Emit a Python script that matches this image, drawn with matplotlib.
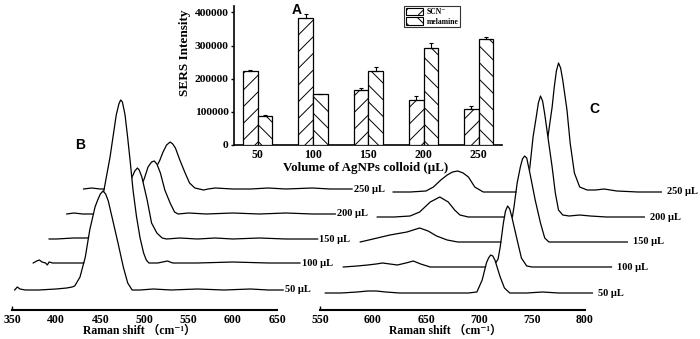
import matplotlib.pyplot as plt
import numpy as np
from matplotlib.patches import Patch

plt.rcParams['font.family'] = ['Liberation Serif', 'DejaVu Serif']
plt.rcParams['font.weight'] = 'bold'
plt.rcParams['hatch.linewidth'] = 0.7

# ---- inset A: SERS intensity vs colloid volume
volumes = ['50', '100', '150', '200', '250']
scn = [223000, 384000, 167000, 136000, 110000]
scn_err = [2000, 12000, 5000, 12000, 7000]
mel = [87000, 153000, 224000, 294000, 321000]
mel_err = [3000, 2000, 10000, 14000, 4000]

# ---- panel B (left) spectra: (Raman shift, intensity a.u.)
labels = ['50 μL', '100 μL', '150 μL', '200 μL', '250 μL']
b50 = [(353, 0), (356, 3), (359, 1), (365, 0), (380, 0), (400, 1), (412, 2), (418, 3), (421, 4),
       (427, 13), (433, 33), (438, 60), (444, 83), (447, 90), (450, 96), (453, 99), (456, 96),
       (459, 89), (464, 70), (470, 47), (476, 23), (481, 7), (486, 0), (495, 0), (510, 1),
       (530, 0), (560, 1), (590, 0), (620, 1), (640, 0), (657, 0)]
b100 = [(374, 0), (378, 2), (381, 3), (384, 1), (388, 0), (390, -2), (392, 1), (396, 0), (410, 0),
        (425, 0), (435, 0), (440, 10), (445, 30), (451, 58), (456, 82), (461, 106), (465, 130),
        (468, 148), (471, 159), (473, 163), (475, 161), (478, 148), (481, 125), (484, 100),
        (487, 73), (491, 46), (495, 25), (499, 10), (502, 3), (505, 0), (515, 0), (526, 2),
        (532, 0), (560, 0), (600, 1), (640, 0), (676, 0)]
b150 = [(392, 0), (400, 0), (420, 1), (435, 1), (440, 2), (450, 3), (460, 8), (470, 22), (480, 42),
        (486, 62), (489, 68), (492, 71), (494, 69), (497, 62), (503, 39), (508, 16), (514, 6),
        (520, 1), (525, 0), (540, 1), (560, 0), (580, 1), (600, 0), (630, 1), (660, 0), (696, 0)]
b200 = [(412, 0), (420, 1), (430, 0), (450, 0), (465, 1), (475, 3), (485, 8), (493, 20), (500, 36),
        (504, 47), (508, 52), (511, 53), (514, 50), (518, 41), (523, 24), (529, 11), (534, 2),
        (538, 0), (550, 1), (570, 0), (600, 1), (630, 0), (660, 1), (690, 0), (716, 0)]
b250 = [(431, 0), (440, 1), (450, 0), (470, 0), (485, 1), (495, 3), (505, 10), (512, 20), (517, 28),
        (521, 37), (525, 44), (529, 47), (532, 45), (535, 41), (540, 29), (546, 16), (551, 6),
        (557, 1), (562, 0), (567, -1), (572, 0), (580, 1), (600, 0), (620, 0), (640, 1),
        (660, 0), (690, 1), (710, 0), (735, 0)]
offsets_b = [20, 47, 71, 96, 121]

# ---- panel C (right) spectra
c50 = [(555, 0), (570, 0), (585, 1), (595, 2), (603, 2), (612, 1), (625, 0), (650, 0), (670, 0),
       (690, 0), (698, 1), (703, 13), (707, 30), (709, 35), (711, 38), (713, 37), (715, 33),
       (720, 16), (724, 5), (729, 0), (745, 0), (760, 1), (775, 0), (795, 0), (807, 0)]
c100 = [(572, 0), (585, 1), (595, 2), (603, 3), (609, 4), (616, 3), (623, 2), (631, 4), (638, 6),
        (645, 3), (654, 0), (670, 0), (690, 0), (705, 0), (714, 1), (718, 8), (720, 20), (723, 44),
        (725, 56), (727, 61), (729, 58), (731, 50), (736, 27), (740, 9), (745, 1), (750, 0),
        (770, 0), (800, 0), (825, 0)]
c150 = [(588, 0), (600, 3), (616, 7), (632, 10), (644, 14), (652, 11), (660, 6), (670, 2), (680, 0),
        (700, 0), (715, 0), (724, 0), (727, 3), (730, 15), (733, 35), (736, 59), (739, 75),
        (741, 83), (743, 86), (745, 84), (748, 69), (753, 42), (758, 19), (762, 4), (766, 0),
        (780, 0), (800, 0), (820, 0), (840, 0)]
c200 = [(604, 0), (620, 0), (635, 1), (644, 5), (654, 15), (663, 20), (671, 15), (677, 7), (682, 2),
        (690, 0), (720, 0), (738, 0), (742, 7), (745, 24), (748, 50), (751, 80), (754, 100),
        (756, 114), (758, 121), (760, 116), (762, 103), (765, 80), (769, 50), (772, 24), (775, 7),
        (779, 2), (785, 1), (795, 2), (805, 1), (820, 0), (840, 0), (856, 0)]
c250 = [(619, 0), (635, 0), (650, 1), (657, 5), (664, 12), (670, 17), (675, 20), (680, 21),
        (685, 19), (690, 15), (696, 5), (704, 0), (720, 0), (740, 0), (755, 0), (758, 6),
        (761, 19), (765, 55), (769, 85), (771, 105), (773, 121), (775, 129), (777, 124),
        (779, 112), (783, 82), (786, 49), (790, 19), (795, 5), (802, 2), (810, 2), (818, 3),
        (830, 1), (850, 0), (872, 0)]
offsets_c = [17, 43, 68, 93, 118]

W, H = 700, 339
fig = plt.figure(figsize=(W / 100, H / 100), dpi=100)


def box(x0, y0, x1, y1):
    return [x0 / W, 1 - y1 / H, (x1 - x0) / W, (y1 - y0) / H]


def waterfall(ax, spectra, offsets, xlim, gap):
    ax.set_xlim(*xlim)
    ax.set_ylim(0, 250)
    ax.patch.set_alpha(0)
    for k, (spec, off) in enumerate(zip(spectra, offsets)):
        x = np.array([p[0] for p in spec], float)
        y = np.array([p[1] for p in spec], float) + off
        ax.fill_between(x, y, 0, color='white', lw=0, zorder=10 - 2 * k, clip_on=False)
        ax.plot(x, y, color='black', lw=0.9, zorder=11 - 2 * k, clip_on=False,
                solid_joinstyle='round')
        ax.text(x[-1] + gap, off, labels[k], fontsize=7.5, va='center', ha='left', zorder=20)
    for s in ['left', 'right', 'top']:
        ax.spines[s].set_visible(False)
    ax.spines['bottom'].set_linewidth(1.5)
    ax.spines['bottom'].set_zorder(30)
    ax.set_yticks([])
    ax.tick_params(axis='x', direction='in', length=3, width=1, labelsize=8.5, pad=3)


axB = fig.add_axes(box(12, 60, 277, 310))
waterfall(axB, [b50, b100, b150, b200, b250], offsets_b, (350, 650), 2)
axB.set_xticks(range(350, 651, 50))

axC = fig.add_axes(box(320, 60, 585, 310))
waterfall(axC, [c50, c100, c150, c200, c250], offsets_c, (550, 800), 5)
axC.set_xticks(range(550, 801, 50))

for cx in [139, 445]:
    fig.text(cx / W, 1 - 331 / H, 'Raman shift （cm⁻¹）', ha='center', va='center', fontsize=8.5,
             family=['Liberation Serif', 'Noto Sans CJK SC', 'DejaVu Serif'])

# ---- inset bar chart
axA = fig.add_axes(box(234, 5.5, 502, 145))
pos = np.arange(len(volumes))
bw = 0.265
axA.bar(pos - bw / 2, scn, bw, color='white', edgecolor='black', hatch='//', lw=0.9, zorder=3)
axA.bar(pos + bw / 2, mel, bw, color='white', edgecolor='black', hatch='\\\\', lw=0.9, zorder=3)
axA.errorbar(pos - bw / 2, scn, yerr=[np.zeros(5), scn_err], fmt='none', ecolor='black',
             elinewidth=0.8, capsize=1.5, capthick=0.8, zorder=4)
axA.errorbar(pos + bw / 2, mel, yerr=[np.zeros(5), mel_err], fmt='none', ecolor='black',
             elinewidth=0.8, capsize=1.5, capthick=0.8, zorder=4)
axA.set_xlim(-0.43, 4.42)
axA.set_ylim(0, 421000)
axA.set_xticks(pos)
axA.set_xticklabels(volumes)
axA.set_yticks(range(0, 400001, 100000))
axA.tick_params(axis='y', length=2.5, width=1, labelsize=8.2, pad=1.5)
axA.tick_params(axis='x', length=0, labelsize=8.5, pad=3)
axA.spines['top'].set_visible(False)
axA.spines['right'].set_visible(False)
axA.spines['left'].set_linewidth(1.2)
axA.spines['bottom'].set_linewidth(1.2)
axA.patch.set_alpha(0)
fig.text(185 / W, 1 - 53 / H, 'SERS Intensity', rotation=90, ha='center', va='center',
         fontsize=9.5)
fig.text(366 / W, 1 - 168 / H, 'Volume of AgNPs colloid (μL)', ha='center', va='center',
         fontsize=9.4)

handles = [Patch(facecolor='white', edgecolor='black', hatch='//', lw=0.8),
           Patch(facecolor='white', edgecolor='black', hatch='\\\\', lw=0.8)]
leg = fig.legend(handles, ['SCN⁻', 'melamine'], loc='upper left',
                 bbox_to_anchor=(404 / W, 1 - 6 / H), fontsize=5.5, frameon=True,
                 fancybox=False, edgecolor='black', borderpad=0.25, handlelength=2.3,
                 handleheight=1.1, labelspacing=0.15, handletextpad=0.4, borderaxespad=0)
leg.get_frame().set_linewidth(0.8)

# panel letters
for txt, px, py in [('A', 297, 10), ('B', 80, 145), ('C', 594, 109)]:
    fig.text(px / W, 1 - py / H, txt, fontsize=10, fontweight='bold', ha='center', va='center',
             family='Liberation Sans')

fig.savefig('out.png', dpi=100)
